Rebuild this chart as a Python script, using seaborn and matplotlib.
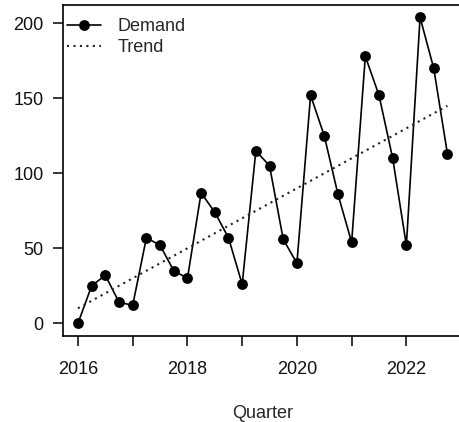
import numpy as np
import pandas as pd
import matplotlib
matplotlib.use("Agg")
import matplotlib.pyplot as plt
import seaborn as sns

# Quarterly demand series, 2016 Q1 - 2022 Q4
quarter = np.arange(2016, 2023, 0.25)
demand = [0, 25, 32, 14, 12, 57, 52, 35, 30, 87, 74, 57, 26, 115,
          105, 56, 40, 152, 125, 86, 54, 178, 152, 110, 52, 204, 170, 113]

# Linear trend, given at the first and last quarter
trend_x = [2016.0, 2022.75]
trend_y = [10, 145]

x_ticks = [2016, 2017, 2018, 2019, 2020, 2021, 2022]
x_tick_labels = ["2016", "", "2018", "", "2020", "", "2022"]
y_ticks = [0, 50, 100, 150, 200]

sns.set_theme(style="ticks")
plt.rcParams["font.family"] = ["Liberation Sans", "DejaVu Sans"]
plt.rcParams["font.size"] = 13

df = pd.DataFrame({"Quarter": quarter, "Demand": demand})
trend_df = pd.DataFrame({"Quarter": trend_x, "Trend": trend_y})

fig = plt.figure(figsize=(4.59, 4.22), dpi=100)
ax = fig.add_axes([63.2 / 459, 1 - 335.5 / 422, 399.0 / 459, 330.4 / 422])

sns.lineplot(data=df, x="Quarter", y="Demand", ax=ax, color="black",
             linewidth=1.2, marker="o", markersize=7.8, markeredgewidth=0,
             label="Demand")
sns.lineplot(data=trend_df, x="Quarter", y="Trend", ax=ax, color="#222222",
             linewidth=1.5, linestyle=(0, (1, 2.1)), label="Trend")

ax.set_xlim(2015.73, 2023.02)
ax.set_ylim(-8.16, 212.16)
ax.set_xticks(x_ticks)
ax.set_xticklabels(x_tick_labels)
ax.set_yticks(y_ticks)
ax.set_ylabel("")
ax.set_xlabel("Quarter", fontsize=13, labelpad=19)

for side in ["left", "bottom", "top", "right"]:
    ax.spines[side].set_visible(True)
    ax.spines[side].set_color("black")
    ax.spines[side].set_linewidth(1.2)

ax.tick_params(axis="both", colors="black", labelcolor="#111111",
               labelsize=13, length=7.5, width=1.1, direction="out")
ax.tick_params(axis="x", pad=11)
ax.tick_params(axis="y", pad=6.5)

ax.legend(loc="upper left", bbox_to_anchor=(0.01, 0.961), frameon=False,
          borderpad=0, borderaxespad=0, handlelength=1.85,
          handletextpad=0.95, labelspacing=0.22, fontsize=13)

fig.savefig("out.png", dpi=100)
